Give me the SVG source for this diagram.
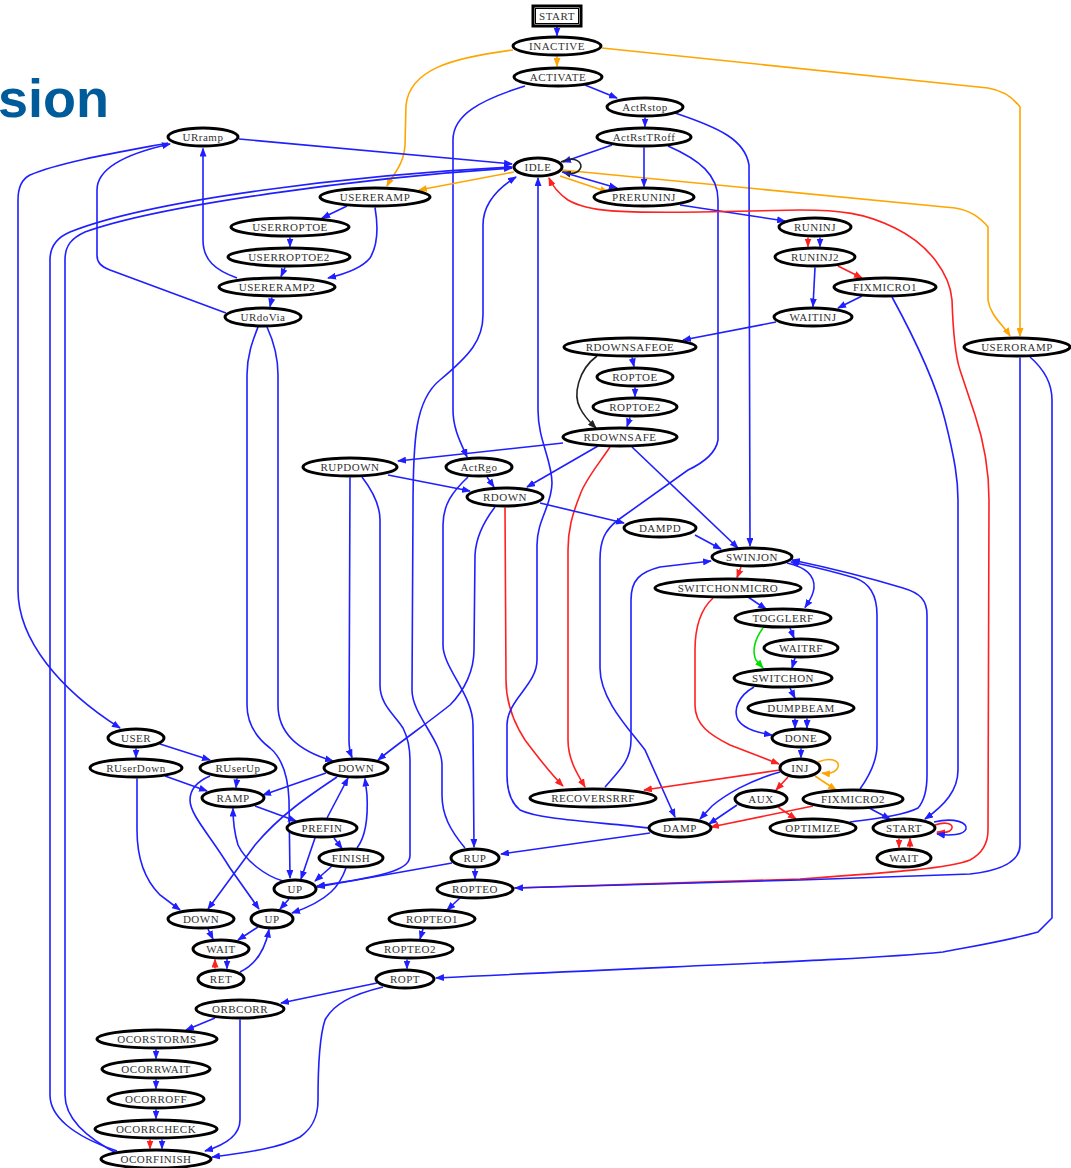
<svg xmlns="http://www.w3.org/2000/svg" width="1071" height="1168" viewBox="0 0 1071 1168">
<defs>
<style>
.n ellipse,.n rect{fill:#fff;stroke:#000;stroke-width:3}
.n text{font-family:"Liberation Serif","Times New Roman",serif;font-size:11px;letter-spacing:0.5px;fill:#333;text-anchor:middle}
#edges path{fill:none;stroke-width:1.6}
.b{stroke:#1f1fff}.r{stroke:#ff2020}.o{stroke:#ffa500}.g{stroke:#00e000}.k{stroke:#222}
#edges .b{marker-end:url(#mb)}#edges .r{marker-end:url(#mr)}#edges .o{marker-end:url(#mo)}#edges .g{marker-end:url(#mg)}#edges .k{marker-end:url(#mk)}
</style>
<marker id="mb" markerUnits="userSpaceOnUse" markerWidth="9" markerHeight="7" refX="8" refY="3.5" orient="auto"><path d="M0,0 L9,3.5 L0,7 z" fill="#1f1fff"/></marker>
<marker id="mr" markerUnits="userSpaceOnUse" markerWidth="9" markerHeight="7" refX="8" refY="3.5" orient="auto"><path d="M0,0 L9,3.5 L0,7 z" fill="#ff2020"/></marker>
<marker id="mo" markerUnits="userSpaceOnUse" markerWidth="9" markerHeight="7" refX="8" refY="3.5" orient="auto"><path d="M0,0 L9,3.5 L0,7 z" fill="#ffa500"/></marker>
<marker id="mg" markerUnits="userSpaceOnUse" markerWidth="9" markerHeight="7" refX="8" refY="3.5" orient="auto"><path d="M0,0 L9,3.5 L0,7 z" fill="#00e000"/></marker>
<marker id="mk" markerUnits="userSpaceOnUse" markerWidth="9" markerHeight="7" refX="8" refY="3.5" orient="auto"><path d="M0,0 L9,3.5 L0,7 z" fill="#222"/></marker>
</defs>
<rect width="1071" height="1168" fill="#fff"/>
<text x="-2" y="117" font-family="Liberation Sans, Arial, sans-serif" font-weight="bold" font-size="54" fill="#005b9a">sion</text>

<g id="edges">
<path class="b" d="M557,27 L557,35.5"/>
<path class="o" d="M557,56.5 L557,66"/>
<path class="o" d="M513,50 C450,58 410,70 406,105 L405,145 C404,165 392,176 387,186"/>
<path class="o" d="M602,48 L988,88 C1000,90 1012,96 1020,107 L1020,336"/>
<path class="o" d="M562,170 L955,208 C968,210 980,217 988,227 L988,300 C990,315 1003,325 1010,336"/>
<path class="b" d="M585,85 L617,98"/>
<path class="b" d="M525,86 C480,100 453,115 453,140 L453,410 C453,430 462,445 467,457"/>
<path class="b" d="M645,117.5 L645,126.5"/>
<path class="b" d="M675,113 C720,128 745,140 749,165 L750,546"/>
<path class="b" d="M612,145 L563,162"/>
<path class="b" d="M644,147.5 L644,186.5"/>
<path class="b" d="M668,146 C700,160 718,175 718,200 L718,440 C716,452 705,462 688,470 L618,520 C605,530 600,540 600,560 L600,668 C600,700 630,730 645,750 L675,817"/>
<path class="k" d="M561,162 C575,155 584,163 580,169 C577,174 570,174 563,172"/>
<path class="b" d="M562,172 L617,188"/>
<path class="o" d="M560,176 L608,192"/>
<path class="o" d="M514,172 L419,190"/>
<path class="b" d="M239,139 L512,164"/>
<path class="b" d="M117,1151 C70,1135 50,1115 50,1095 L50,260 C50,245 58,237 70,232 C150,200 350,175 512,167"/>
<path class="b" d="M120,1155 C90,1140 65,1120 65,1095 L65,260 C65,245 72,238 85,232 C160,205 360,178 512,168"/>
<path class="b" d="M168,143 C120,152 60,162 30,175 C20,180 18,190 18,200 L18,590 C18,640 60,690 120,728"/>
<path class="b" d="M226,313 L110,270 C100,266 97,262 97,255 L97,190 C97,170 120,155 170,144"/>
<path class="b" d="M237,278 C215,270 203,260 203,240 L203,148.5"/>
<path class="b" d="M347,206 L322,218"/>
<path class="b" d="M375,207.5 C378,225 378,245 370,258 C362,268 345,274 328,278"/>
<path class="b" d="M290,237.5 L290,246.5"/>
<path class="b" d="M285,267.5 L281,276.5"/>
<path class="b" d="M272,297.5 L270,306.5"/>
<path class="b" d="M258,327 C253,340 247,355 247,375 L247,705 C247,725 257,738 270,748 C282,758 288,775 289,800 L290,878"/>
<path class="b" d="M267,327 C273,340 278,355 278,375 L278,705 C278,730 295,750 333,761"/>
<path class="b" d="M680,205 L785,221"/>
<path class="r" d="M808,237.5 L808,246.5"/>
<path class="b" d="M820,237.5 L820,246.5"/>
<path class="r" d="M838,266 L862,278"/>
<path class="b" d="M815,267.5 L813,306.5"/>
<path class="b" d="M862,296 L838,308"/>
<path class="b" d="M892,297 C910,330 935,380 945,420 C955,460 958,480 958,500 L958,770 C958,790 945,805 925,819"/>
<path class="r" d="M514,888 L800,879 C900,872 950,868 970,860 C983,853 988,842 988,830 L989,500 C989,460 980,430 975,415 L960,370 C955,355 953,330 952,300 C950,275 930,245 895,228 C865,213 840,210 800,210 L700,212 C620,213 588,212 568,200 C558,193 552,185 549,178"/>
<path class="b" d="M1020,357.5 L1020,845 C1020,860 1005,870 970,874 L800,880 L515,888"/>
<path class="b" d="M1030,357 C1045,370 1052,385 1052,400 L1052,918 L1038,932 C1010,940 980,945 943,952 C860,960 700,965 436,978"/>
<path class="b" d="M776,322 L683,340"/>
<path class="b" d="M632,357.5 L634,366.5"/>
<path class="b" d="M635,387.5 L635,396.5"/>
<path class="b" d="M630,417.5 L627,426.5"/>
<path class="k" d="M597,356 C578,370 573,395 580,408 C585,418 592,424 596,428"/>
<path class="b" d="M563,443 L398,461"/>
<path class="b" d="M598,446 L527,487"/>
<path class="r" d="M610,447 C598,465 585,480 580,495 C572,515 568,530 568,550 L568,740 C568,760 578,775 585,787"/>
<path class="b" d="M632,447 L738,548"/>
<path class="b" d="M388,475 L470,491"/>
<path class="b" d="M487,477 L494,487"/>
<path class="b" d="M540,503 L624,523"/>
<path class="r" d="M505,507.5 L506,680 C506,700 512,720 525,740 C540,760 552,775 563,786"/>
<path class="b" d="M495,507 C485,520 476,535 475,555 L474,650 C474,670 465,690 450,705 C425,725 400,742 378,760"/>
<path class="b" d="M350,477.5 L349,740 C349,750 351,755 352,757.5"/>
<path class="b" d="M362,477 C372,490 380,505 380,520 L380,685 C380,705 395,715 403,728 C409,740 410,750 410,760 L410,855 C410,868 395,875 317,886"/>
<path class="b" d="M468,477 C452,492 443,505 443,525 L443,645 C443,668 473,695 473,725 L474,847"/>
<path class="b" d="M465,848 C450,830 442,815 442,795 L442,765 C442,740 412,715 412,690 L413,510 C413,440 415,400 440,380 C470,355 483,340 483,315 L483,225 C483,205 495,190 516,177"/>
<path class="b" d="M649,828 C600,822 540,820 520,810 C510,802 507,790 507,775 L507,725 C507,700 537,685 537,660 L537,545 C537,520 552,505 552,483 C552,460 538,440 538,410 L538,178"/>
<path class="b" d="M695,535 L721,549"/>
<path class="r" d="M741,567 L737,577.5"/>
<path class="b" d="M787,563 C805,567 815,575 814,588 C813,597 808,603 805,607.5"/>
<path class="b" d="M748,597 L766,609"/>
<path class="r" d="M713,598 C700,610 695,630 695,650 L695,705 C695,725 710,735 730,745 L779,764"/>
<path class="b" d="M605,787 C620,770 631,760 631,740 L631,600 C631,580 640,572 660,567 L711,561"/>
<path class="b" d="M790,628 L794,638"/>
<path class="g" d="M763,628 C754,640 752,652 756,660 L763,668"/>
<path class="b" d="M795,658 L792,668"/>
<path class="b" d="M790,688 L795,698"/>
<path class="b" d="M754,687 C738,696 733,710 738,720 C745,730 760,733 772,735"/>
<path class="b" d="M795,718.5 L795,728"/>
<path class="b" d="M807,718.5 L807,728"/>
<path class="b" d="M801,748.5 L801,757.5"/>
<path class="o" d="M818,762 C830,757 840,760 838,767 C836,773 830,774 822,773"/>
<path class="r" d="M788,777 L776,790"/>
<path class="o" d="M815,776 L836,790"/>
<path class="r" d="M780,770 L644,790"/>
<path class="b" d="M780,772 C750,780 725,795 712,806 L700,819"/>
<path class="b" d="M737,805 L709,824"/>
<path class="r" d="M813,806 L711,827"/>
<path class="r" d="M778,807 L796,819"/>
<path class="b" d="M870,808.5 L890,819"/>
<path class="b" d="M860,789 C870,775 877,760 877,745 L877,615 C877,595 870,583 855,578 C835,572 810,566 791,562"/>
<path class="b" d="M850,822 C880,818 905,815 918,808 C925,800 927,790 927,775 L927,615 C927,600 920,593 903,588 C870,578 830,568 792,560"/>
<path class="r" d="M935,825 C946,821 953,824 952,828 C951,832 945,833 937,832"/>
<path class="b" d="M934,822 C955,817 968,823 966,829 C964,835 950,836 937,834"/>
<path class="r" d="M899,838.5 L899,847.5"/>
<path class="r" d="M910,847.5 L910,838.5"/>
<path class="b" d="M650,833 L501,854"/>
<path class="b" d="M475,868.5 L475,878.5"/>
<path class="b" d="M452,863 L317,887"/>
<path class="b" d="M460,898 L447,910"/>
<path class="b" d="M423,929 L420,939"/>
<path class="b" d="M407,959.5 L407,968.5"/>
<path class="b" d="M377,983 L281,1003"/>
<path class="b" d="M383,987 C350,995 333,1005 325,1020 C320,1035 318,1060 318,1100 C318,1120 310,1130 300,1137 C280,1148 250,1152 212,1157"/>
<path class="b" d="M215,1018 L186,1030"/>
<path class="b" d="M240,1019.5 L240,1120 C240,1135 225,1145 205,1151"/>
<path class="b" d="M156,1049.5 L156,1058.5"/>
<path class="b" d="M156,1079.5 L156,1088.5"/>
<path class="b" d="M156,1109.5 L156,1118.5"/>
<path class="r" d="M150,1139.5 L150,1148.5"/>
<path class="b" d="M162,1139.5 L162,1148.5"/>
<path class="b" d="M136,748.5 L136,757.5"/>
<path class="b" d="M160,744 L210,760"/>
<path class="b" d="M165,776 L207,791"/>
<path class="b" d="M237,778.5 L236,787.5"/>
<path class="b" d="M210,776 C196,782 190,790 190,800 C190,815 210,835 230,868 L259,909"/>
<path class="b" d="M137,778.5 L137,830 C137,860 145,880 160,895 L180,910"/>
<path class="b" d="M326,773 L263,795"/>
<path class="b" d="M337,777 C310,795 280,815 255,845 L208,909"/>
<path class="b" d="M255,806 L296,821"/>
<path class="b" d="M327,818 L348,778"/>
<path class="b" d="M334,838 L342,848.5"/>
<path class="b" d="M315,838 L301,879"/>
<path class="b" d="M357,848 C367,835 368,815 367,795 L365,778.5"/>
<path class="b" d="M332,866 L315,881"/>
<path class="b" d="M346,868 C340,885 330,900 292,913"/>
<path class="b" d="M289,899 L280,909"/>
<path class="b" d="M258,927 L238,940"/>
<path class="b" d="M208,929 L213,939"/>
<path class="b" d="M227,959 L227,968.5"/>
<path class="r" d="M215,968.5 L215,959.5"/>
<path class="b" d="M240,972 C255,965 265,950 269,929.5"/>
<path class="b" d="M283,881 C265,876 245,860 238,845 C235,835 233,825 233,808.5"/>
</g>

<g id="nodes">
<g class="n" id="n_START"><rect x="533" y="6" width="48" height="20"/><rect x="535.5" y="8.5" width="43" height="15" style="stroke-width:1"/><text x="557" y="19.5">START</text></g>
<g class="n" id="n_INACTIVE"><ellipse cx="557" cy="46" rx="44" ry="9"/><text x="557" y="49.5">INACTIVE</text></g>
<g class="n" id="n_ACTIVATE"><ellipse cx="558" cy="77" rx="44" ry="9"/><text x="558" y="80.5">ACTIVATE</text></g>
<g class="n" id="n_ActRstop"><ellipse cx="645" cy="107" rx="38" ry="9"/><text x="645" y="110.5">ActRstop</text></g>
<g class="n" id="n_ActRstTRoff"><ellipse cx="644" cy="137" rx="47" ry="9"/><text x="644" y="140.5">ActRstTRoff</text></g>
<g class="n" id="n_IDLE"><ellipse cx="538" cy="167" rx="24" ry="9"/><text x="538" y="170.5">IDLE</text></g>
<g class="n" id="n_PRERUNINJ"><ellipse cx="644" cy="197" rx="50" ry="9"/><text x="644" y="200.5">PRERUNINJ</text></g>
<g class="n" id="n_USERERAMP"><ellipse cx="375" cy="197" rx="55" ry="9"/><text x="375" y="200.5">USERERAMP</text></g>
<g class="n" id="n_URramp"><ellipse cx="203" cy="137" rx="35" ry="9"/><text x="203" y="140.5">URramp</text></g>
<g class="n" id="n_USERROPTOE"><ellipse cx="290" cy="227" rx="59" ry="9"/><text x="290" y="230.5">USERROPTOE</text></g>
<g class="n" id="n_USERROPTOE2"><ellipse cx="289" cy="257" rx="61" ry="9"/><text x="289" y="260.5">USERROPTOE2</text></g>
<g class="n" id="n_USERERAMP2"><ellipse cx="277" cy="287" rx="58" ry="9"/><text x="277" y="290.5">USERERAMP2</text></g>
<g class="n" id="n_URdoVia"><ellipse cx="263" cy="317" rx="38" ry="9"/><text x="263" y="320.5">URdoVia</text></g>
<g class="n" id="n_RUNINJ"><ellipse cx="815" cy="227" rx="36" ry="9"/><text x="815" y="230.5">RUNINJ</text></g>
<g class="n" id="n_RUNINJ2"><ellipse cx="815" cy="257" rx="40" ry="9"/><text x="815" y="260.5">RUNINJ2</text></g>
<g class="n" id="n_FIXMICRO1"><ellipse cx="885" cy="287" rx="51" ry="9"/><text x="885" y="290.5">FIXMICRO1</text></g>
<g class="n" id="n_WAITINJ"><ellipse cx="813" cy="317" rx="39" ry="9"/><text x="813" y="320.5">WAITINJ</text></g>
<g class="n" id="n_USERORAMP"><ellipse cx="1017" cy="347" rx="53" ry="9"/><text x="1017" y="350.5">USERORAMP</text></g>
<g class="n" id="n_RDOWNSAFEOE"><ellipse cx="630" cy="347" rx="66" ry="9"/><text x="630" y="350.5">RDOWNSAFEOE</text></g>
<g class="n" id="n_ROPTOE"><ellipse cx="635" cy="377" rx="38" ry="9"/><text x="635" y="380.5">ROPTOE</text></g>
<g class="n" id="n_ROPTOE2"><ellipse cx="635" cy="407" rx="42" ry="9"/><text x="635" y="410.5">ROPTOE2</text></g>
<g class="n" id="n_RDOWNSAFE"><ellipse cx="620" cy="437" rx="57" ry="9"/><text x="620" y="440.5">RDOWNSAFE</text></g>
<g class="n" id="n_RUPDOWN"><ellipse cx="350" cy="467" rx="47" ry="9"/><text x="350" y="470.5">RUPDOWN</text></g>
<g class="n" id="n_ActRgo"><ellipse cx="479" cy="467" rx="33" ry="9"/><text x="479" y="470.5">ActRgo</text></g>
<g class="n" id="n_RDOWN"><ellipse cx="505" cy="497" rx="38" ry="9"/><text x="505" y="500.5">RDOWN</text></g>
<g class="n" id="n_DAMPD"><ellipse cx="660" cy="528" rx="36" ry="9"/><text x="660" y="531.5">DAMPD</text></g>
<g class="n" id="n_SWINJON"><ellipse cx="752" cy="557" rx="40" ry="9"/><text x="752" y="560.5">SWINJON</text></g>
<g class="n" id="n_SWITCHONMICRO"><ellipse cx="728" cy="588" rx="73" ry="9"/><text x="728" y="591.5">SWITCHONMICRO</text></g>
<g class="n" id="n_TOGGLERF"><ellipse cx="783" cy="618" rx="48" ry="9"/><text x="783" y="621.5">TOGGLERF</text></g>
<g class="n" id="n_WAITRF"><ellipse cx="801" cy="648" rx="37" ry="9"/><text x="801" y="651.5">WAITRF</text></g>
<g class="n" id="n_SWITCHON"><ellipse cx="783" cy="678" rx="49" ry="9"/><text x="783" y="681.5">SWITCHON</text></g>
<g class="n" id="n_DUMPBEAM"><ellipse cx="801" cy="708" rx="53" ry="9"/><text x="801" y="711.5">DUMPBEAM</text></g>
<g class="n" id="n_DONE"><ellipse cx="801" cy="738" rx="29" ry="9"/><text x="801" y="741.5">DONE</text></g>
<g class="n" id="n_INJ"><ellipse cx="800" cy="768" rx="20" ry="9"/><text x="800" y="771.5">INJ</text></g>
<g class="n" id="n_AUX"><ellipse cx="761" cy="799" rx="26" ry="9"/><text x="761" y="802.5">AUX</text></g>
<g class="n" id="n_FIXMICRO2"><ellipse cx="853" cy="799" rx="50" ry="9"/><text x="853" y="802.5">FIXMICRO2</text></g>
<g class="n" id="n_OPTIMIZE"><ellipse cx="813" cy="828" rx="43" ry="9"/><text x="813" y="831.5">OPTIMIZE</text></g>
<g class="n" id="n_START2"><ellipse cx="904" cy="828" rx="31" ry="9"/><text x="904" y="831.5">START</text></g>
<g class="n" id="n_WAIT2"><ellipse cx="904" cy="858" rx="27" ry="9"/><text x="904" y="861.5">WAIT</text></g>
<g class="n" id="n_RECOVERSRRF"><ellipse cx="593" cy="798" rx="63" ry="9"/><text x="593" y="801.5">RECOVERSRRF</text></g>
<g class="n" id="n_DAMP"><ellipse cx="680" cy="828" rx="31" ry="9"/><text x="680" y="831.5">DAMP</text></g>
<g class="n" id="n_RUP"><ellipse cx="475" cy="858" rx="24" ry="9"/><text x="475" y="861.5">RUP</text></g>
<g class="n" id="n_ROPTEO"><ellipse cx="475" cy="889" rx="38" ry="9"/><text x="475" y="892.5">ROPTEO</text></g>
<g class="n" id="n_ROPTEO1"><ellipse cx="432" cy="919" rx="43" ry="9"/><text x="432" y="922.5">ROPTEO1</text></g>
<g class="n" id="n_ROPTEO2"><ellipse cx="410" cy="949" rx="43" ry="9"/><text x="410" y="952.5">ROPTEO2</text></g>
<g class="n" id="n_ROPT"><ellipse cx="405" cy="979" rx="29" ry="9"/><text x="405" y="982.5">ROPT</text></g>
<g class="n" id="n_USER"><ellipse cx="136" cy="738" rx="28" ry="9"/><text x="136" y="741.5">USER</text></g>
<g class="n" id="n_RUserDown"><ellipse cx="136" cy="768" rx="46" ry="9"/><text x="136" y="771.5">RUserDown</text></g>
<g class="n" id="n_RUserUp"><ellipse cx="238" cy="768" rx="38" ry="9"/><text x="238" y="771.5">RUserUp</text></g>
<g class="n" id="n_RAMP"><ellipse cx="233" cy="798" rx="31" ry="9"/><text x="233" y="801.5">RAMP</text></g>
<g class="n" id="n_DOWN1"><ellipse cx="356" cy="768" rx="32" ry="9"/><text x="356" y="771.5">DOWN</text></g>
<g class="n" id="n_PREFIN"><ellipse cx="322" cy="828" rx="35" ry="9"/><text x="322" y="831.5">PREFIN</text></g>
<g class="n" id="n_FINISH"><ellipse cx="351" cy="858" rx="32" ry="9"/><text x="351" y="861.5">FINISH</text></g>
<g class="n" id="n_UP1"><ellipse cx="295" cy="889" rx="21" ry="9"/><text x="295" y="892.5">UP</text></g>
<g class="n" id="n_DOWN2"><ellipse cx="201" cy="919" rx="33" ry="9"/><text x="201" y="922.5">DOWN</text></g>
<g class="n" id="n_UP2"><ellipse cx="272" cy="919" rx="21" ry="9"/><text x="272" y="922.5">UP</text></g>
<g class="n" id="n_WAIT1"><ellipse cx="221" cy="949" rx="28" ry="9"/><text x="221" y="952.5">WAIT</text></g>
<g class="n" id="n_RET"><ellipse cx="221" cy="979" rx="23" ry="9"/><text x="221" y="982.5">RET</text></g>
<g class="n" id="n_ORBCORR"><ellipse cx="240" cy="1009" rx="44" ry="9"/><text x="240" y="1012.5">ORBCORR</text></g>
<g class="n" id="n_OCORSTORMS"><ellipse cx="157" cy="1039" rx="60" ry="9"/><text x="157" y="1042.5">OCORSTORMS</text></g>
<g class="n" id="n_OCORRWAIT"><ellipse cx="156" cy="1069" rx="54" ry="9"/><text x="156" y="1072.5">OCORRWAIT</text></g>
<g class="n" id="n_OCORROFF"><ellipse cx="156" cy="1099" rx="48" ry="9"/><text x="156" y="1102.5">OCORROFF</text></g>
<g class="n" id="n_OCORRCHECK"><ellipse cx="156" cy="1129" rx="61" ry="9"/><text x="156" y="1132.5">OCORRCHECK</text></g>
<g class="n" id="n_OCORFINISH"><ellipse cx="156" cy="1159" rx="55" ry="9"/><text x="156" y="1162.5">OCORFINISH</text></g>
</g>
</svg>
